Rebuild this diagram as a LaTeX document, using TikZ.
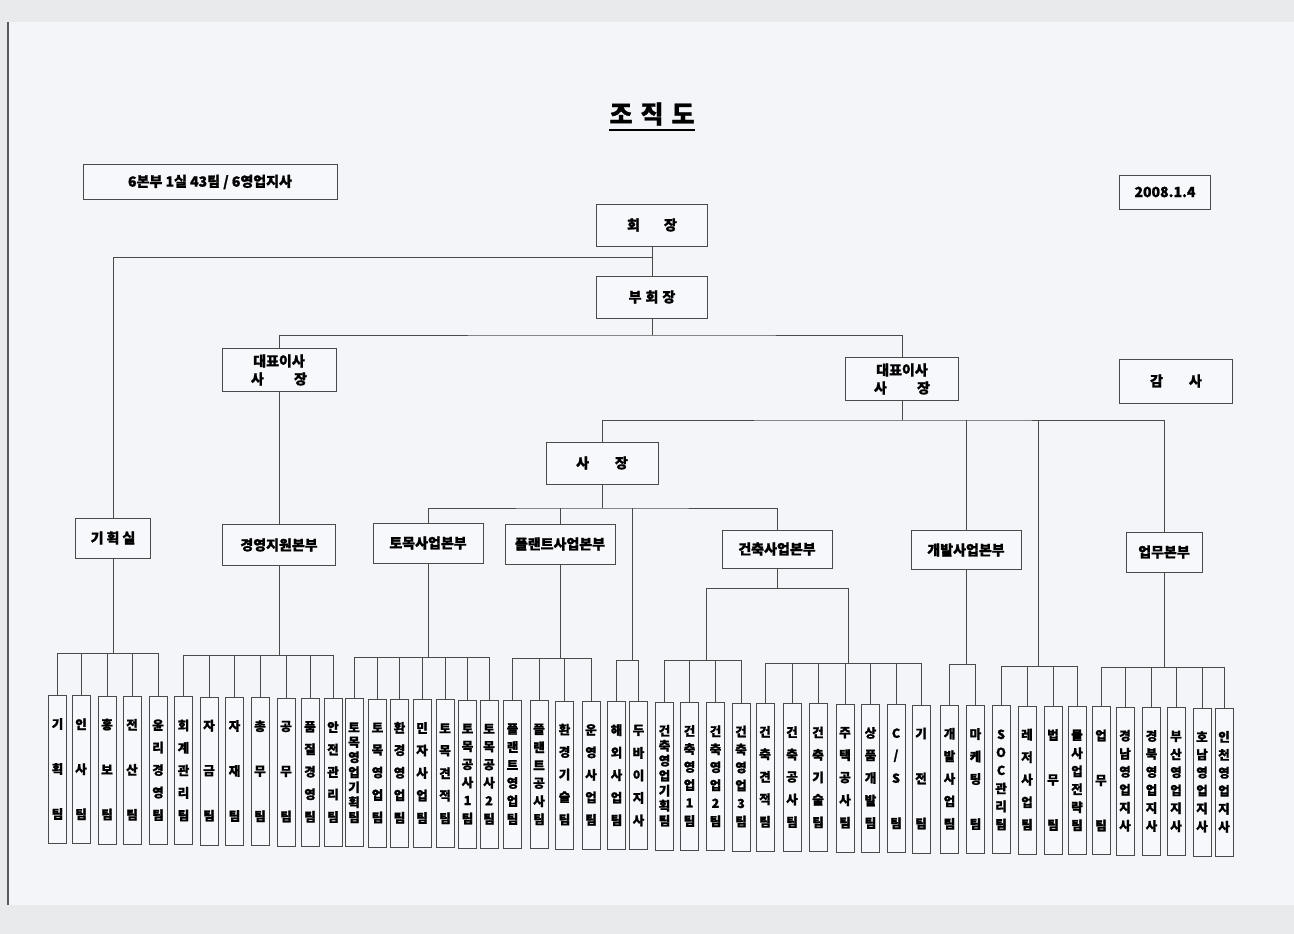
\documentclass[tikz,border=0pt]{standalone}
\usepackage{fontspec}
\setmainfont{Noto Sans CJK KR}[BoldFeatures={FakeBold=1.2}]
\definecolor{scanbg}{HTML}{E9EAEC}
\definecolor{pagebg}{HTML}{F3F5F9}
\definecolor{boxfill}{HTML}{F7F8FB}
\definecolor{linec}{HTML}{4A4A4A}
\newcommand\grpbr[4]{%
  \coordinate (by) at (0,#3);
  \draw[conn] (#4) -- (#4 |- by);
  \draw[conn] (t#1.north |- by) -- (t#2.north |- by);
  \foreach \k in {#1,...,#2}{\draw[conn] (t\k.north) -- (t\k.north |- by);}
}
\begin{document}
\begin{tikzpicture}[x=1pt,y=-1pt,
  box/.style={draw=linec, line width=1pt, fill=boxfill, inner sep=0pt, align=center,
    font=\bfseries\fontsize{14}{18}\selectfont},
  teambox/.style={draw=linec, line width=1pt, fill=boxfill, minimum width=18pt,
    minimum height=148pt, inner sep=0pt, anchor=north},
  teamch/.style={inner sep=0pt, font=\bfseries\fontsize{12.5}{13}\selectfont},
  conn/.style={draw=linec, line width=0.8pt}]
\useasboundingbox (0,0) rectangle (1294,934);
\fill[scanbg] (0,0) rectangle (1294,934);
\fill[pagebg] (8,22) rectangle (1294,905);
\draw[black!65, line width=1.5pt] (8,22) -- (8,905);

% title
\node[inner sep=0pt, font=\bfseries\fontsize{25}{28}\selectfont] (ttl) at (652,114) {조\hspace{8pt}직\hspace{8pt}도};
\draw[line width=1.8pt] ([yshift=-4pt]ttl.south west) -- ([yshift=-4pt]ttl.south east);

% info boxes
\node[box, minimum width=254pt, minimum height=35pt, font=\bfseries\fontsize{14}{16}\selectfont] (info) at (210,182) {6본부 1실 43팀 / 6영업지사};
\node[box, minimum width=91pt, minimum height=34pt] (date) at (1165,192) {2008.1.4};

% top hierarchy
\node[box, minimum width=111pt, minimum height=42pt] (hoe) at (652,225) {회\hspace{24pt}장};
\node[box, minimum width=111pt, minimum height=42pt] (buhoe) at (652,297) {부\hspace{4pt}회\hspace{4pt}장};
\node[box, minimum width=114pt, minimum height=43pt] (ceoL) at (279,370) {대표이사\\\makebox[4em]{사\hfill 장}};
\node[box, minimum width=113pt, minimum height=43pt] (ceoR) at (902,379) {대표이사\\\makebox[4em]{사\hfill 장}};
\node[box, minimum width=113pt, minimum height=44pt] (gamsa) at (1176,381) {감\hspace{26pt}사};
\node[box, minimum width=112pt, minimum height=42pt] (sajang) at (602,463) {사\hspace{26pt}장};

% divisions
\node[box, minimum width=75pt, minimum height=40pt] (gihoek) at (113,538) {기\hspace{3pt}획\hspace{3pt}실};
\node[box, minimum width=113pt, minimum height=41pt] (gyeong) at (279,545) {경영지원본부};
\node[box, minimum width=110pt, minimum height=40pt] (tomok) at (428,543) {토목사업본부};
\node[box, minimum width=110pt, minimum height=40pt] (plant) at (560,544) {플랜트사업본부};
\node[box, minimum width=110pt, minimum height=38pt] (geonchuk) at (777,549) {건축사업본부};
\node[box, minimum width=110pt, minimum height=39pt] (gaebal) at (966,550) {개발사업본부};
\node[box, minimum width=76pt, minimum height=40pt] (eopmu) at (1164,552) {업무본부};

% connectors upper
\coordinate (j1) at (652,257);
\coordinate (j2) at (652,335);
\coordinate (j3) at (902,420);
\coordinate (j4) at (602,508);
\coordinate (j5) at (777,588);
\coordinate (soc) at (1038,420);
\coordinate (haeoe) at (632,508);
\coordinate (gL) at (706,588);
\coordinate (gR) at (848,588);
\draw[conn] (hoe.south) -- (buhoe.north);
\draw[conn] (j1) -| (gihoek.north);
\draw[conn] (buhoe.south) -- (j2);
\draw[conn] (ceoL.north) |- (j2) -| (ceoR.north);
\draw[conn] (ceoL.south) -- (gyeong.north);
\draw[conn] (ceoR.south) -- (j3);
\draw[conn] (sajang.north) |- (j3) -| (eopmu.north);
\draw[conn] (gaebal.north) -- (gaebal.north |- j3);
\draw[conn] (sajang.south) -- (j4);
\draw[conn] (tomok.north) |- (j4) -| (geonchuk.north);
\draw[conn] (plant.north) -- (plant.north |- j4);
\draw[conn] (geonchuk.south) -- (j5);
\draw[conn] (gL) -- (gR);

% teams
\foreach \x/\n/\txt [count=\i] in {
57.5/3/{기,획,팀}, 81/3/{인,사,팀}, 107/3/{홍,보,팀}, 132/3/{전,산,팀},
158/5/{윤,리,경,영,팀}, 183.5/5/{회,계,관,리,팀}, 209/3/{자,금,팀},
234.5/3/{자,재,팀}, 260/3/{총,무,팀}, 286/3/{공,무,팀},
310/5/{품,질,경,영,팀}, 333/5/{안,전,관,리,팀},
354/7/{토,목,영,업,기,획,팀}, 377.5/5/{토,목,영,업,팀}, 399.5/5/{환,경,영,업,팀},
422/5/{민,자,사,업,팀}, 445/5/{토,목,견,적,팀}, 467.5/6/{토,목,공,사,1,팀},
489/6/{토,목,공,사,2,팀}, 512.5/6/{플,랜,트,영,업,팀}, 539/6/{플,랜,트,공,사,팀},
564.5/5/{환,경,기,술,팀}, 591/5/{운,영,사,업,팀}, 616.5/5/{해,외,사,업,팀},
638.5/5/{두,바,이,지,사}, 664.5/7/{건,축,영,업,기,획,팀}, 689.5/6/{건,축,영,업,1,팀},
715.5/6/{건,축,영,업,2,팀}, 741/6/{건,축,영,업,3,팀}, 765/5/{건,축,견,적,팀},
792/5/{건,축,공,사,팀}, 818/5/{건,축,기,술,팀}, 845/5/{주,택,공,사,팀},
870.5/5/{상,품,개,발,팀}, 896/5/{C,{/},S,{},팀}, 921/3/{기,전,팀},
949.5/5/{개,발,사,업,팀}, 975.5/5/{마,케,팅,{},팀}, 1001/6/{S,O,C,관,리,팀},
1027/5/{레,저,사,업,팀}, 1053/3/{법,무,팀}, 1077/6/{물,사,업,전,략,팀},
1101/3/{업,무,팀}, 1125/6/{경,남,영,업,지,사}, 1151.5/6/{경,북,영,업,지,사},
1176/6/{부,산,영,업,지,사}, 1202/6/{호,남,영,업,지,사}, 1224/6/{인,천,영,업,지,사}}{
  \pgfmathsetmacro\ty{695+0.011*(\x-58)}
  \node[teambox] (t\i) at (\x,\ty) {};
  \foreach \ch [count=\j] in \txt {
    \pgfmathsetmacro\cy{\ty+29+90*(\j-1)/(\n-1)}
    \node[teamch] (c\i-\j) at (\x,\cy) {\ch};
  }
}

% group brackets
\grpbr{1}{5}{653}{gihoek.south}
\grpbr{6}{12}{655}{gyeong.south}
\grpbr{13}{19}{657}{tomok.south}
\grpbr{20}{23}{658}{plant.south}
\grpbr{24}{25}{660}{haeoe}
\grpbr{26}{29}{660}{gL}
\grpbr{30}{36}{663}{gR}
\grpbr{37}{38}{664}{gaebal.south}
\grpbr{39}{42}{666}{soc}
\grpbr{43}{48}{667}{eopmu.south}
\end{tikzpicture}
\end{document}
